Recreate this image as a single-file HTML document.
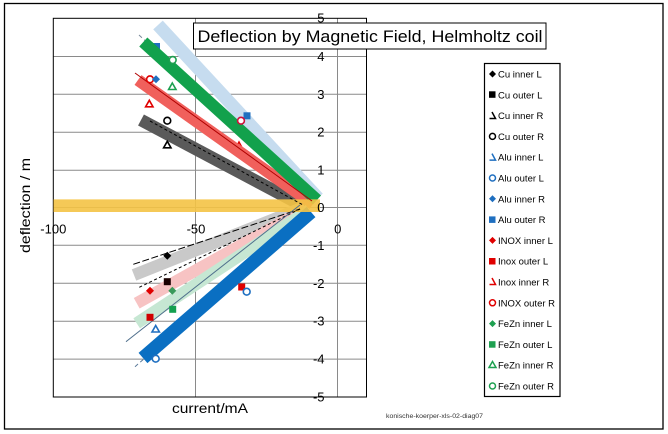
<!DOCTYPE html>
<html><head><meta charset="utf-8"><style>
html,body{margin:0;padding:0;background:#fff;}
svg{display:block;font-family:"Liberation Sans",sans-serif;}
</style></head><body>
<svg width="668" height="434" viewBox="0 0 668 434" xmlns="http://www.w3.org/2000/svg">
<rect x="0" y="0" width="668" height="434" fill="#fff"/>
<rect x="4.5" y="3.5" width="658.5" height="425.5" fill="none" stroke="#000" stroke-width="1.3"/>

<!-- gridlines -->
<g stroke="#8a8a8a" stroke-width="1">
<line x1="53" y1="56.5" x2="366.5" y2="56.5"/>
<line x1="53" y1="94.3" x2="366.5" y2="94.3"/>
<line x1="53" y1="132.2" x2="366.5" y2="132.2"/>
<line x1="53" y1="170.2" x2="366.5" y2="170.2"/>
<line x1="53" y1="207.5" x2="366.5" y2="207.5"/>
<line x1="53" y1="245.3" x2="366.5" y2="245.3"/>
<line x1="53" y1="283.3" x2="366.5" y2="283.3"/>
<line x1="53" y1="321.2" x2="366.5" y2="321.2"/>
<line x1="53" y1="359.1" x2="366.5" y2="359.1"/>
<line x1="195.5" y1="18.3" x2="195.5" y2="397"/>
<line x1="337.5" y1="18.3" x2="337.5" y2="397"/>
</g>
<rect x="53.3" y="18.3" width="313.2" height="378.7" fill="none" stroke="#000" stroke-width="1"/>

<!-- hidden markers under bands -->
<rect x="153.5" y="43" width="6.5" height="6.5" fill="#1f6fc0"/>
<polygon points="239,142 242.5,148.5 235.5,148.5" fill="#fff" stroke="#e00000" stroke-width="1.5"/>
<line x1="139" y1="35" x2="316" y2="200" stroke="#7a8a9a" stroke-width="1" stroke-dasharray="4,3"/>
<line x1="135" y1="366.7" x2="310" y2="213" stroke="#5a7a9a" stroke-width="1" stroke-dasharray="4,3"/>

<!-- upper bands -->
<line x1="158" y1="25" x2="318" y2="198" stroke="#c6dcef" stroke-width="13"/>
<line x1="141" y1="120" x2="305" y2="207" stroke="#5a5a5a" stroke-width="12.5"/>
<line x1="138" y1="80" x2="313" y2="204" stroke="#f0605c" stroke-width="12"/>
<line x1="143.3" y1="42" x2="317" y2="200" stroke="#12a14c" stroke-width="12"/>

<!-- lower bands -->
<line x1="134" y1="275" x2="302" y2="208" stroke="#c9c9c9" stroke-width="12"/>
<line x1="136.7" y1="303.3" x2="306" y2="209" stroke="#f7c3c3" stroke-width="12"/>
<line x1="136.7" y1="323.3" x2="309" y2="210" stroke="#c6e7d3" stroke-width="12"/>
<line x1="143" y1="358" x2="311" y2="212" stroke="#0a6fc2" stroke-width="13.5"/>

<!-- yellow band -->
<line x1="53.5" y1="205.7" x2="320" y2="205.7" stroke="#f5c445" stroke-width="12.7" opacity="0.9"/>

<!-- thin trendlines -->
<line x1="135" y1="73" x2="312" y2="201" stroke="#b00000" stroke-width="1"/>
<line x1="150" y1="121" x2="303" y2="205" stroke="#000" stroke-width="1" stroke-dasharray="3,2.5"/>
<line x1="133.3" y1="264.3" x2="300" y2="209" stroke="#000" stroke-width="1" stroke-dasharray="7,2.5"/>
<line x1="139.3" y1="287.3" x2="300" y2="209" stroke="#000" stroke-width="1" stroke-dasharray="3,2.5"/>
<line x1="126" y1="341.7" x2="300" y2="205" stroke="#4f6f8c" stroke-width="1"/>

<!-- markers upper -->
<circle cx="172.7" cy="60" r="3.4" fill="#fff" stroke="#1ea050" stroke-width="1.6"/>
<circle cx="150" cy="79.3" r="3.4" fill="#fff" stroke="#e00000" stroke-width="1.6"/>
<polygon points="156,75.3 160,79.3 156,83.3 152,79.3" fill="#1f6fc0"/>
<polygon points="172.3,83 176,89.5 168.6,89.5" fill="#fff" stroke="#1ea050" stroke-width="1.6"/>
<polygon points="149.3,100.3 153,106.8 145.6,106.8" fill="#fff" stroke="#e00000" stroke-width="1.6"/>
<circle cx="167.3" cy="120.7" r="3.4" fill="#fff" stroke="#000" stroke-width="1.6"/>
<polygon points="167.3,141.3 171,147.8 163.6,147.8" fill="#fff" stroke="#000" stroke-width="1.6"/>
<rect x="243.5" y="112.3" width="7" height="7" fill="#1f6fc0"/>
<circle cx="241" cy="120.7" r="3.4" fill="#fff" stroke="#d0103a" stroke-width="1.6"/>

<!-- markers lower -->
<polygon points="167.3,251.7 171.3,255.7 167.3,259.7 163.3,255.7" fill="#000"/>
<rect x="163.8" y="278.2" width="7" height="7" fill="#1a0000"/>
<polygon points="150,286.7 154,290.7 150,294.7 146,290.7" fill="#e00000"/>
<polygon points="172.3,286.7 176.3,290.7 172.3,294.7 168.3,290.7" fill="#3a9a5a"/>
<rect x="238.2" y="283.5" width="7" height="7" fill="#e00000"/>
<circle cx="246.7" cy="291.7" r="3.4" fill="#fff" stroke="#1f6fc0" stroke-width="1.6"/>
<rect x="169.2" y="305.8" width="7" height="7" fill="#14a050"/>
<rect x="146.5" y="313.8" width="7" height="7" fill="#d00000"/>
<polygon points="155.7,325.5 159.4,332 152,332" fill="#fff" stroke="#1f6fc0" stroke-width="1.6"/>
<circle cx="155.7" cy="358.7" r="3.4" fill="#fff" stroke="#1f6fc0" stroke-width="1.6"/>

<!-- y tick labels -->
<g font-size="13" fill="#000" text-anchor="end">
<text x="324.5" y="22.5">5</text>
<text x="324.5" y="61">4</text>
<text x="324.5" y="98.8">3</text>
<text x="324.5" y="136.7">2</text>
<text x="324.5" y="174.7">1</text>
<text x="324.5" y="212">0</text>
<text x="324.5" y="249.8">-1</text>
<text x="324.5" y="287.8">-2</text>
<text x="324.5" y="325.7">-3</text>
<text x="324.5" y="363.6">-4</text>
<text x="324.5" y="401.5">-5</text>
</g>
<!-- x tick labels -->
<g font-size="13" fill="#000" text-anchor="middle">
<text x="53.3" y="233.7">-100</text>
<text x="196" y="233.7">-50</text>
<text x="337.7" y="233.7">0</text>
</g>

<!-- title -->
<rect x="193.5" y="23" width="352.5" height="26" fill="#fff" stroke="#000" stroke-width="1"/>
<text x="197.5" y="41.8" font-size="17" textLength="345" lengthAdjust="spacingAndGlyphs">Deflection by Magnetic Field, Helmholtz coil</text>

<!-- axis titles -->
<text transform="translate(30,205.5) rotate(-90)" font-size="14" text-anchor="middle" textLength="95" lengthAdjust="spacingAndGlyphs">deflection / m</text>
<text x="210" y="413" font-size="14" text-anchor="middle" textLength="76" lengthAdjust="spacingAndGlyphs">current/mA</text>
<text x="386" y="418" font-size="6.2" fill="#333" textLength="97" lengthAdjust="spacingAndGlyphs">konische-koerper-xls-02-diag07</text>

<!-- legend -->
<rect x="484.5" y="63.5" width="75.5" height="333" fill="#fff" stroke="#000" stroke-width="1.2"/>
<g font-size="9.5" fill="#000">
<polygon points="492.5,70.5 496,74 492.5,77.5 489,74" fill="#000"/>
<text x="498" y="77.5">Cu inner L</text>
<rect x="489" y="91.3" width="6.5" height="6.5" fill="#000"/>
<text x="498" y="98.3">Cu outer L</text>
<polyline points="492,112 495.5,118.5 489.5,118.5" fill="none" stroke="#000" stroke-width="1.5"/>
<text x="498" y="119.1">Cu inner R</text>
<circle cx="492.5" cy="136.4" r="3" fill="#fff" stroke="#000" stroke-width="1.5"/>
<text x="498" y="139.9">Cu outer R</text>
<polyline points="492,153.6 495.5,160.1 489.5,160.1" fill="none" stroke="#1f6fc0" stroke-width="1.5"/>
<text x="498" y="160.7">Alu inner L</text>
<circle cx="492.5" cy="178" r="3" fill="#fff" stroke="#1f6fc0" stroke-width="1.5"/>
<text x="498" y="181.5">Alu outer L</text>
<polygon points="492.5,195.3 496,198.8 492.5,202.3 489,198.8" fill="#1f6fc0"/>
<text x="498" y="202.3">Alu inner R</text>
<rect x="489" y="216.4" width="6.5" height="6.5" fill="#1f6fc0"/>
<text x="498" y="223.1">Alu outer R</text>
<polygon points="492.5,236.9 496,240.4 492.5,243.9 489,240.4" fill="#e00000"/>
<text x="498" y="243.9">INOX inner L</text>
<rect x="489" y="258" width="6.5" height="6.5" fill="#e00000"/>
<text x="498" y="264.7">Inox outer L</text>
<polyline points="492,278 495.5,284.5 489.5,284.5" fill="none" stroke="#e00000" stroke-width="1.5"/>
<text x="498" y="285.5">Inox inner R</text>
<circle cx="492.5" cy="302.8" r="3" fill="#fff" stroke="#e00000" stroke-width="1.5"/>
<text x="498" y="306.3">INOX outer R</text>
<polygon points="492.5,320.1 496,323.6 492.5,327.1 489,323.6" fill="#1ea050"/>
<text x="498" y="327.1">FeZn inner L</text>
<rect x="489" y="341.2" width="6.5" height="6.5" fill="#1ea050"/>
<text x="498" y="347.9">FeZn outer L</text>
<polygon points="492.5,361.5 496,367.5 489,367.5" fill="#fff" stroke="#1ea050" stroke-width="1.5"/>
<text x="498" y="368.7">FeZn inner R</text>
<circle cx="492.5" cy="386" r="3" fill="#fff" stroke="#1ea050" stroke-width="1.5"/>
<text x="498" y="389.5">FeZn outer R</text>
</g>
</svg>
</body></html>
